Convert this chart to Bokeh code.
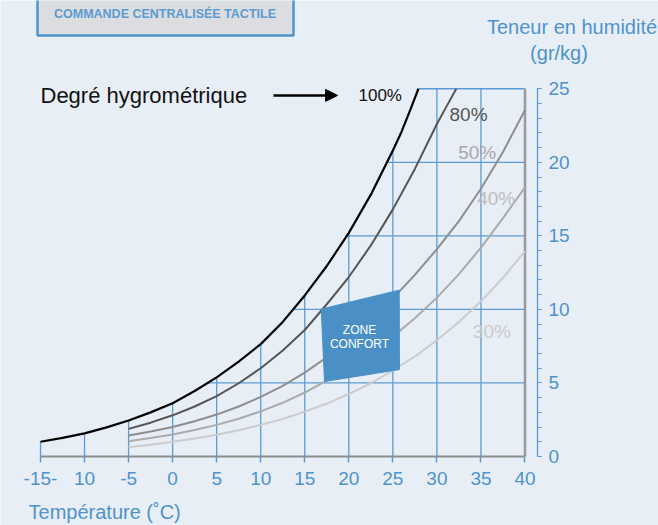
from bokeh.plotting import figure
from bokeh.models import (Range1d, FixedTicker, SingleIntervalTicker, Label, Arrow, NormalHead,
                          LinearAxis)
from bokeh.embed import file_html
from bokeh.resources import INLINE
import numpy as np

# ---- data ----
x_ticks = [-15, -10, -5, 0, 5, 10, 15, 20, 25, 30, 35, 40]
x_tick_labels = ["-15-", "10", "-5", "0", "5", "10", "15", "20", "25", "30", "35", "40"]
y_grid = [5, 10, 15, 20, 25]

t_sat = [-15, -12.5, -10, -7.5, -5, -2.5, 0, 2.5, 5, 7.5, 10, 12.5, 15, 17.5, 20, 22.5, 25, 26, 27, 27.9]
w100 = [1.0, 1.27, 1.57, 1.98, 2.45, 3.0, 3.62, 4.45, 5.38, 6.45, 7.64, 9.15, 10.95, 12.95, 15.2, 17.8, 20.8, 22.1, 23.6, 25.0]

t80 = [-5, -2.5, 0, 2.5, 5, 7.5, 10, 12.5, 15, 17.5, 20, 22.5, 25, 27.5, 30, 31, 32.2]
w80 = [1.88, 2.3, 2.8, 3.4, 4.1, 4.98, 6.0, 7.2, 8.6, 10.35, 12.2, 14.35, 16.8, 19.55, 22.6, 23.7, 25.0]

t_low = [-5, -2.5, 0, 2.5, 5, 7.5, 10, 12.5, 15, 17.5, 20, 22.5, 25, 27.5, 30, 32.5, 35, 37.5, 40]
w50 = [1.43, 1.7, 2.0, 2.4, 2.85, 3.4, 4.05, 4.8, 5.7, 6.75, 7.95, 9.3, 10.75, 12.35, 14.1, 16.0, 18.2, 20.7, 23.55]
w40 = [1.04, 1.25, 1.5, 1.8, 2.15, 2.57, 3.07, 3.65, 4.35, 5.15, 6.05, 7.05, 8.15, 9.4, 10.8, 12.4, 14.2, 16.2, 18.3]
w30 = [0.63, 0.8, 1.0, 1.22, 1.48, 1.78, 2.15, 2.55, 3.05, 3.6, 4.25, 4.98, 5.85, 6.8, 7.9, 9.15, 10.55, 12.15, 13.95]

zone_x = [16.87, 25.72, 25.75, 17.24]
zone_y = [10.02, 11.31, 5.91, 5.10]

# ---- styles ----
BG = "#e8eef6"
BLUE = "#5b9bd5"
TXT_BLUE = "#4f93cc"
FONT = "Liberation Sans"

p = figure(width=658, height=525, output_backend="svg", toolbar_location=None,
           x_range=Range1d(-19.541, 55.156), y_range=Range1d(-4.691, 31.0),
           x_axis_location=None, y_axis_location=None,
           min_border=0, min_border_left=0, min_border_right=0,
           min_border_top=0, min_border_bottom=0)
p.background_fill_color = BG
p.border_fill_color = BG
p.outline_line_color = None
p.xgrid.visible = False
p.ygrid.visible = False

# bottom axis (drawn at humidity 0)
xa = LinearAxis(fixed_location=0)
xa.ticker = FixedTicker(ticks=x_ticks)
xa.major_label_overrides = {t: s for t, s in zip(x_ticks, x_tick_labels)}
xa.bounds = (x_ticks[0], x_ticks[-1])
xa.axis_line_color = "#8c8c8c"
xa.axis_line_width = 2
xa.major_tick_line_color = BLUE
xa.major_tick_line_width = 1.5
xa.major_tick_in = 0
xa.major_tick_out = 6
xa.minor_tick_line_color = None
xa.major_label_text_color = TXT_BLUE
xa.major_label_text_font = FONT
xa.major_label_text_font_size = "19px"
xa.major_label_standoff = 10
p.add_layout(xa, "below")

# right axis
ya = LinearAxis(fixed_location=41.42)
ya.ticker = SingleIntervalTicker(interval=5, num_minor_ticks=5)
ya.bounds = (0, 25)
ya.axis_line_color = BLUE
ya.axis_line_width = 1.3
ya.major_tick_line_color = BLUE
ya.minor_tick_line_color = BLUE
ya.major_tick_in = 0
ya.major_tick_out = 4
ya.minor_tick_in = 0
ya.minor_tick_out = 4
ya.major_label_text_color = TXT_BLUE
ya.major_label_text_font = FONT
ya.major_label_text_font_size = "19px"
ya.major_label_standoff = 7
p.add_layout(ya, "right")

# grid under the saturation curve
gx = np.array(x_ticks[:-1], dtype=float)
gtop = np.minimum(np.interp(gx, t_sat, w100), y_grid[-1])
p.segment(x0=gx, y0=0 * gx, x1=gx, y1=gtop, line_color=BLUE, line_width=1.3)
gy = np.array(y_grid, dtype=float)
gxs = np.interp(gy, w100, t_sat)
p.segment(x0=gxs, y0=gy, x1=0 * gy + x_ticks[-1], y1=gy, line_color=BLUE, line_width=1.3)
# right border at 40
p.segment(x0=[x_ticks[-1]], y0=[0], x1=[x_ticks[-1]], y1=[y_grid[-1]], line_color="#9a9a9a", line_width=2.5)

# curves
p.line(t_low, w30, line_color="#cccccc", line_width=2)
p.line(t_low, w40, line_color="#ababab", line_width=2)
p.line(t_low, w50, line_color="#8e8e8e", line_width=2)
p.line(t80, w80, line_color="#555555", line_width=2)
p.line(t_sat, w100, line_color="#000000", line_width=2.2)

# zone confort (on top of curves and grid)
p.patch(zone_x, zone_y, fill_color="#4a8fc6", line_color="#4a8fc6", line_width=1)

# button
p.quad(left=[-15.34], right=[13.72], bottom=[28.62], top=[31.5], fill_color="#dcdde1",
       line_color="#4d94cc", line_width=2.5)

def lab(x, y, text, size, color, align="left", bold=False):
    p.add_layout(Label(x=x, y=y, text=text, text_font=FONT, text_font_size=size,
                       text_color=color, text_align=align, text_baseline="middle",
                       text_font_style="bold" if bold else "normal"))

lab(-0.87, 30.1, "COMMANDE CENTRALISÉE TACTILE", "12.5px", "#5b9bd0", align="center", bold=True)
lab(-15.0, 24.55, "Degré hygrométrique", "22px", "#111111")
lab(21.1, 24.55, "100%", "17px", "#111111")
lab(31.43, 23.28, "80%", "19px", "#555555")
lab(32.42, 20.67, "50%", "19px", "#a8a8a8")
lab(34.57, 17.54, "40%", "19px", "#bdbdbd")
lab(34.08, 8.5, "30%", "19px", "#cacaca")
lab(21.21, 8.57, "ZONE", "12px", "white", align="center")
lab(21.21, 7.66, "CONFORT", "12px", "white", align="center")
lab(-16.36, -3.74, "Température (˚C)", "20px", TXT_BLUE)
lab(45.34, 29.23, "Teneur en humidité", "20px", TXT_BLUE, align="center")
lab(43.86, 27.4, "(gr/kg)", "20px", TXT_BLUE, align="center")

p.add_layout(Arrow(end=NormalHead(size=12, fill_color="black", line_color="black"),
                   x_start=11.45, y_start=24.55, x_end=18.72, y_end=24.55,
                   line_color="black", line_width=2.5))

open("out.html", "w").write(file_html(p, INLINE))
